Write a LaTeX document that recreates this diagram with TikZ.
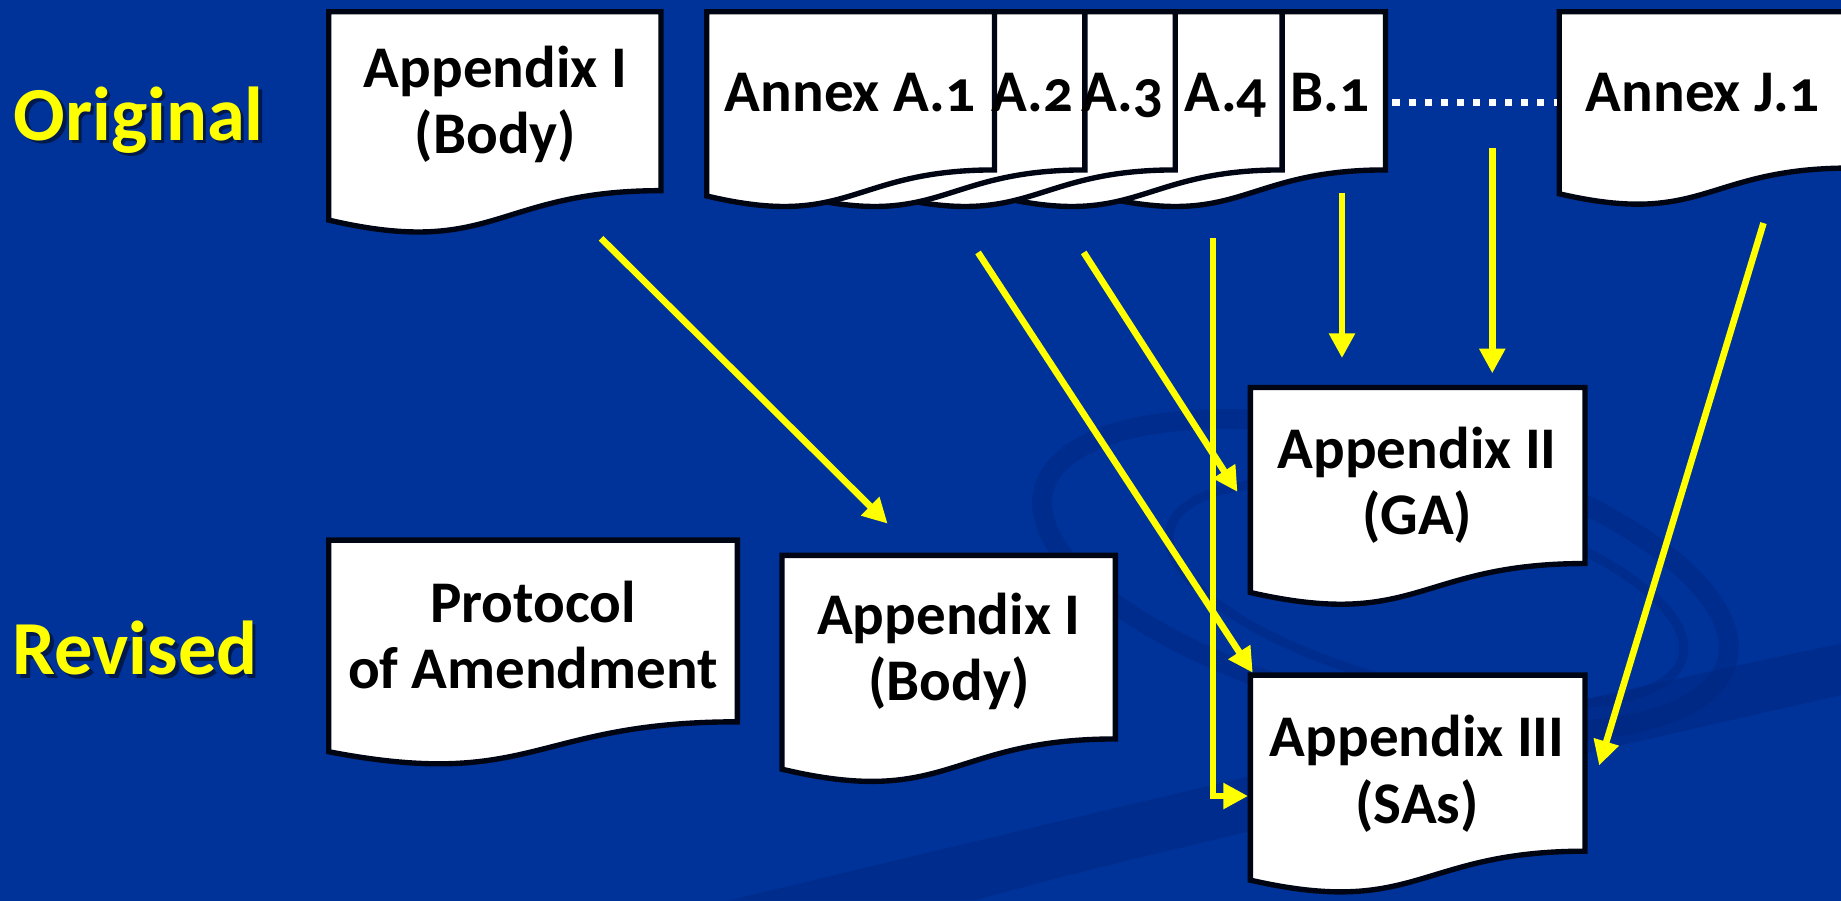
\documentclass[tikz,border=0pt]{standalone}
\usepackage{fontspec}
\setmainfont{Carlito}[Numbers=OldStyle]
\usetikzlibrary{arrows.meta}
\definecolor{slideblue}{RGB}{0,51,153}
\definecolor{swirlblue}{RGB}{0,36,125}
\definecolor{hilite}{RGB}{255,255,0}
\definecolor{inkblack}{RGB}{0,5,20}

% document shape: top-left corner (x,y), width w, height h; wavy bottom edge
\newcommand\docpath[4]{(#1,#2) -- ({#1+#3},#2) -- ({#1+#3},{#2+0.802*#4})
  .. controls ({#1+0.5*#3},{#2+0.802*#4}) and ({#1+0.5*#3},{#2+1.1075*#4}) ..
  (#1,{#2+0.934*#4}) -- cycle}

\tikzset{
  docshape/.style={draw=inkblack, fill=white, line width=1.3pt, line join=miter},
  doclabel/.style={font=\bfseries\fontsize{14.3}{16}\selectfont, text=black,
    align=center, inner sep=0pt},
  rowlabel/.style={font=\bfseries\fontsize{18.5}{22}\selectfont, text=hilite, inner sep=0pt},
  rowshadow/.style={font=\bfseries\fontsize{18.5}{22}\selectfont, text=black,
    opacity=0.5, inner sep=0pt},
  feed/.style={draw=hilite, line width=1.6pt,
    -{Triangle[length=6pt, width=6pt]}},
  dotrule/.style={draw=white, line width=1.7pt, dash pattern=on 1.7pt off 2.2pt}
}

\begin{document}
\begin{tikzpicture}[x=0.01cm, y=-0.01cm]
  % slide background
  \fill[slideblue] (0,0) rectangle (1568,767);
  \useasboundingbox (0,0) rectangle (1568,767);

  % faint swirl decoration
  \begin{scope}[swirlblue, opacity=0.4]
    \draw[line width=0.17cm, rotate around={-14:(1180,490)}]
      (1180,490) ellipse [x radius=300, y radius=115];
    \draw[line width=0.08cm, rotate around={-14:(1215,505)}]
      (1215,505) ellipse [x radius=225, y radius=80];
    \fill (620,767) .. controls (900,700) and (1250,615) .. (1568,548)
      -- (1568,592) .. controls (1250,665) and (960,730) .. (830,767) -- cycle;
  \end{scope}

  % row labels
  \node[rowshadow] at (121,105) {Original};
  \node[rowlabel] (origLbl) at (118,102) {Original};
  \node[rowshadow] at (118,555) {Revised};
  \node[rowlabel] (revLbl) at (115,552) {Revised};

  % original documents
  \path[docshape] \docpath{280}{10}{283}{190};
  \node[doclabel] (appIold) at (422,89) {Appendix I\\(Body)};

  \path[docshape] \docpath{935}{10}{245}{168};
  \path[docshape] \docpath{847}{10}{245}{168};
  \path[docshape] \docpath{756}{10}{245}{168};
  \path[docshape] \docpath{679}{10}{245}{168};
  \path[docshape] \docpath{602}{10}{245}{168};
  \node[doclabel, anchor=base] (annexA1) at (724,95) {Annex A.1};
  \node[doclabel, anchor=base] (annexA2) at (879,95) {A.2};
  \node[doclabel, anchor=base] (annexA3) at (956,95) {A.3};
  \node[doclabel, anchor=base] (annexA4) at (1044,95) {A.4};
  \node[doclabel, anchor=base] (annexB1) at (1133,95) {B.1};

  \path[docshape] \docpath{1328}{10}{248}{166};
  \node[doclabel, anchor=base] (annexJ1) at (1450,95) {Annex J.1};

  \coordinate (dotL) at (1186,87);
  \coordinate (dotR) at (1326,87);
  \draw[dotrule] (dotL) -- (dotR);

  % revised documents
  \path[docshape] \docpath{280}{460}{348}{193};
  \node[doclabel] (protocol) at (454,541) {Protocol\\of Amendment};

  \path[docshape] \docpath{666}{473}{284}{195};
  \node[doclabel] (appInew) at (808,555) {Appendix I\\(Body)};

  \path[docshape] \docpath{1065}{330}{285}{187};
  \node[doclabel] (appII) at (1207,413) {Appendix II\\(GA)};

  \path[docshape] \docpath{1065}{575}{285}{187};
  \node[doclabel] (appIII) at (1207,659) {Appendix III\\(SAs)};

  % connector end points
  \coordinate (fromBody) at (512,203);
  \coordinate (toBody) at (756,446);
  \coordinate (fromA1) at (833,215);
  \coordinate (toIIIcorner) at (1067,573);
  \coordinate (fromA2) at (923,215);
  \coordinate (toIIside) at (1054,419);
  \coordinate (fromA3) at (1033,203);
  \coordinate (bendA3) at (1033,678);
  \coordinate (toIIIside) at (1063,678);
  \coordinate (fromB1) at (1143,164);
  \coordinate (toIItopL) at (1143,305);
  \coordinate (fromDots) at (1271,126);
  \coordinate (toIItopR) at (1271,318);
  \coordinate (fromJ1) at (1502,190);
  \coordinate (toIIIright) at (1362,652);

  % connectors
  \draw[feed] (fromBody) -- (toBody);
  \draw[feed] (fromA1) -- (toIIIcorner);
  \draw[feed] (fromA2) -- (toIIside);
  \draw[feed] (fromA3) -- (bendA3) -- (toIIIside);
  \draw[feed] (fromB1) -- (toIItopL);
  \draw[feed] (fromDots) -- (toIItopR);
  \draw[feed] (fromJ1) -- (toIIIright);
\end{tikzpicture}
\end{document}
